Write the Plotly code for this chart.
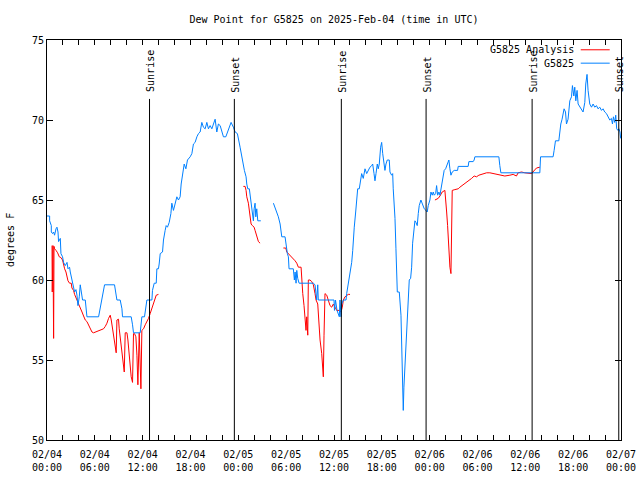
import pandas as pd
import plotly.graph_objects as go

# ---------------- data ----------------
# hours after 2025-02-04 00:00 UTC ; None marks a gap
obs_hours = [0.0, 0.33, 0.33, 0.54, 0.54, 0.70, 0.83, 0.95, 1.13, 1.25, 1.38, 1.45, 1.67, 1.75, 1.95,
             2.08, 2.29, 2.51, 2.63, 2.83, 2.92, 3.13, 3.33, 3.46, 3.63, 3.76, 3.88, 4.05, 4.17, 4.30,
             4.46, 4.80, 4.92, 5.01, 6.47, 6.68, 6.89, 7.09, 7.22, 8.47, 8.65, 8.77, 9.18, 9.40, 9.47,
             10.56, 10.73, 10.85, 11.69, 11.82, 11.90, 12.23, 12.41, 12.53, 13.16, 13.23, 13.45, 13.70,
             13.78, 13.98, 14.07, 14.20, 14.49, 14.61, 14.82, 14.95, 15.11, 15.33, 15.54, 15.66, 15.86,
             16.08, 16.29, 16.49, 16.70, 16.83, 16.99, 17.21, 17.42, 17.62, 17.96, 18.17, 18.37, 18.58,
             18.80, 19.00, 19.21, 19.42, 19.62, 19.84, 20.05, 20.25, 20.46, 20.68, 20.88, 21.09, 21.30,
             21.50, 21.72, 21.93, 22.13, 22.43, 22.63, 22.84, 23.09, 23.38, 23.60, 23.88, 24.13, 24.22,
             24.76, 24.97, 25.06, 25.18, 25.38, 25.47, 25.60, 25.69, 25.89, 25.98, 26.10, 26.19, 26.31,
             26.44, 26.82, None,
             28.40, 28.61, 28.82, 29.02, 29.24, 29.36, 29.45, 29.86, 29.99, 30.15, 30.28, 30.36, 30.90,
             31.03, 31.12, 31.24, 31.33, 31.45, 31.62, 33.41, 33.62, 33.71, 33.83, 33.96, 34.03, 36.00,
             36.06, 36.19, 36.38, 36.67, 36.75, 36.88, 36.97, 37.17, 37.51, 37.59, 37.79, 37.92, 38.09,
             38.22, 38.35, 38.42, 38.54, 38.72, 38.84, 38.97, 39.17, 39.35, 39.47, 39.67, 39.89, 40.10,
             40.30, 40.51, 40.73, 40.85, 41.02, 41.14, 41.27, 41.43, 41.55, 41.68, 41.85, 41.98, 42.11,
             42.27, 42.39, 42.52, 42.68, 42.93, 43.02, 43.23, 43.36, 43.43, 43.65, 43.77, 43.94, 44.19,
             44.27, 44.40, 44.49, 44.56, 44.69, 44.77, 44.90, 45.03, 45.19, 45.31, 45.44, 45.61, 45.74,
             45.86, 46.03, 46.15, 46.28, 46.44, 46.57, 46.69, 46.90, 47.12, 47.32, 47.53, 47.69, 47.82,
             48.03, 48.16, 48.32, 48.45, 48.57, 48.75, 48.87, 49.00, 49.16, 49.29, 49.41, 49.57, 49.70,
             49.82, 50.00, 50.13, 50.33, 50.41, 50.54, 50.67, 50.83, 51.08, 51.50, 51.58, 52.83, 52.92,
             53.46, 53.58, 53.67, 56.68, 56.80, 56.93, 59.94, 61.82, 61.91, 63.48, 63.61, 63.78, 64.20,
             64.32, 64.45, 64.61, 64.86, 65.04, 65.16, 65.36, 65.58, 65.79, 65.91, 66.08, 66.20, 66.33,
             66.49, 66.62, 66.83, 67.04, 67.24, 67.46, 67.58, 67.74, 67.87, 68.08, 68.30, 68.50, 68.71,
             68.92, 69.12, 69.34, 69.55, 69.75, 69.96, 70.18, 70.38, 70.59, 70.80, 70.93, 71.05, 71.21,
             71.34, 71.46, 71.62, 71.74, 71.87, 71.96]
obs_dewpt = [64.0, 64.0, 63.7, 63.4, 63.0, 62.9, 63.0, 62.8, 63.2, 63.3, 63.0, 62.4, 62.6, 61.65, 61.45,
             61.1, 60.9, 61.1, 60.7, 60.8, 60.5, 60.0, 59.7, 59.25, 59.4, 59.05, 58.4, 58.95, 59.7, 59.25,
             58.75, 58.75, 58.2, 57.7, 57.7, 58.2, 58.75, 59.25, 59.7, 59.7, 59.25, 58.75, 58.75, 58.2, 57.7,
             57.7, 57.2, 56.7, 56.7, 57.2, 57.7, 57.7, 58.2, 58.75, 58.75, 59.35, 59.8, 59.8,
             60.7, 60.7, 61.0, 61.65, 61.75, 62.5, 63.1, 63.4, 63.3, 63.6, 64.15, 64.8, 64.35,
             64.8, 65.2, 65.0, 65.2, 66.0, 66.55, 67.25, 66.95, 67.5, 67.7, 67.9, 68.5, 68.6,
             68.95, 69.15, 69.25, 69.85, 69.55, 69.45, 69.85, 69.45, 69.65, 69.45, 69.75, 70.05, 69.25,
             69.75, 69.65, 69.35, 68.95, 68.95, 69.25, 69.55, 69.85, 69.55, 69.25, 69.15, 68.6, 68.3,
             66.85, 66.45, 66.0, 65.7, 65.7, 65.3, 64.9, 64.45, 63.7, 64.45, 64.8, 63.95, 64.45,
             63.7, 63.7, None,
             64.8, 64.55, 64.25, 63.95, 63.5, 63.0, 62.7, 62.7, 62.05, 61.65, 61.45, 60.7, 60.7,
             60.0, 60.5, 59.8, 60.6, 60.1, 59.8, 59.8, 59.7, 59.15, 58.75, 59.7, 58.75, 58.75,
             58.1, 58.75, 58.1, 57.7, 58.75, 57.7, 58.5, 58.75, 58.75, 59.15, 59.8, 60.0, 60.5,
             61.1, 61.85, 62.6, 63.3, 64.25, 65.2, 65.7, 65.7, 66.45, 66.65, 66.35, 66.95, 66.65,
             66.85, 67.05, 67.15, 67.25, 66.65, 66.2, 66.65, 67.25, 66.95, 67.25, 68.3, 68.6, 67.9,
             67.25, 66.85, 67.25, 67.5, 67.5, 66.75, 66.55, 66.65, 65.7, 63.85, 61.95, 59.25, 59.25,
             58.75, 57.8, 56.0, 53.3, 51.85, 53.3, 54.6, 56.25, 57.6, 58.75, 60.0, 60.1, 60.8,
             62.3, 63.2, 63.7, 63.6, 63.4, 64.15, 64.65, 65.0, 64.65, 64.45, 64.35, 64.25, 64.65,
             65.0, 65.5, 65.3, 65.5, 65.3, 65.4, 65.9, 65.3, 65.5, 65.3, 65.6, 66.0, 66.55,
             66.85, 66.95, 67.15, 67.4, 67.5, 66.95, 66.55, 66.75, 66.85, 66.85, 67.1, 67.1, 67.4,
             67.4, 67.5, 67.7, 67.7, 67.15, 66.7, 66.7, 66.7, 67.7, 67.7, 68.1, 68.7, 68.7,
             69.35, 69.75, 70.05, 70.7, 70.5, 69.75, 70.05, 71.2, 71.45, 72.15, 71.5, 72.05, 71.2,
             71.85, 71.0, 70.8, 70.6, 70.5, 71.1, 72.25, 72.85, 71.85, 71.0, 70.8, 71.0, 70.8,
             70.9, 70.7, 70.8, 70.6, 70.7, 70.5, 70.4, 70.2, 70.0, 70.1, 69.75, 70.2, 69.85,
             70.3, 69.45, 69.35, 69.45, 69.25, 68.85]

ana_hours = [0.63, 0.66, 0.75, 0.83, 0.88, 0.95, 1.13, 1.33, 1.54, 1.75, 1.95, 2.08, 2.21, 2.38, 2.51,
             2.63, 2.83, 3.04, 3.13, 3.33, 3.46, 3.63, 3.76, 3.96, 4.17, 4.39, 4.59, 4.80, 5.01, 5.21,
             5.43, 5.64, 5.84, 6.05, 6.27, 6.47, 6.68, 6.89, 7.09, 7.31, 7.52, 7.72, 7.93, 8.06, 8.22,
             8.35, 8.47, 8.56, 8.68, 8.77, 8.97, 9.06, 9.18, 9.31, 9.47, 9.69, 9.81, 10.03, 10.15,
             10.31, 10.44, 10.56, 10.73, 10.85, 10.98, 11.15, 11.28, 11.40, 11.57, 11.69, 11.78, 11.90,
             12.11, 12.32, 12.53, 12.73, 12.94, 13.16, 13.36, 13.57, 13.70, 13.98, None,
             24.63, 24.85, 24.97, 25.06, 25.26, 25.35, 25.47, 25.60, 25.76, 25.98, 26.10, 26.23, 26.39,
             26.52, 26.73, None,
             29.65, 29.95, 30.08, 30.28, 30.49, 30.70, 30.90, 31.12, 31.33, 31.53, 31.87, 31.95, 32.08,
             32.24, 32.37, 32.49, 32.58, 32.71, 32.78, 32.99, 33.21, 33.41, 33.62, 33.75, 33.96, 34.12,
             34.25, 34.46, 34.59, 34.66, 34.75, 34.87, 35.09, 35.29, 35.50, 35.71, 35.92, 36.13, 36.34,
             36.63, 36.88, 37.04, 37.17, 37.38, 37.59, 37.79, 38.01, None,
             48.66, 49.07, 49.29, 49.57, 49.91, 50.00, 50.13, 50.25, 50.33, 50.45, 50.54, 50.67, 50.75,
             50.83, 51.16, 51.38, 51.58, 51.79, 52.08, 52.33, 52.63, 52.92, 53.26, 53.58, 53.88, 54.17,
             54.51, 54.84, 55.14, 55.55, 55.97, 56.39, 56.80, 57.43, 58.06, 58.47, 58.89, 59.09, 59.52,
             59.94, 60.77, 61.10, 61.40, 61.82]
ana_dewpt = [62.15, 59.25, 62.15, 56.35, 62.1, 61.95, 61.85, 61.7, 61.45, 61.4, 61.25, 60.9, 60.7, 60.5, 60.25,
             59.95, 59.8, 59.8, 59.5, 59.35, 59.1, 58.95, 58.75, 58.5, 58.3, 58.0, 57.75, 57.5, 57.4, 57.2,
             56.95, 56.75, 56.7, 56.75, 56.8, 56.85, 56.9, 56.9, 56.95, 57.1, 57.3, 57.6, 57.8, 57.5, 56.95,
             56.45, 56.25, 55.7, 55.45, 57.5, 57.55, 56.95, 56.45, 55.8, 55.1, 54.25, 56.7, 56.7, 56.25,
             55.5, 54.8, 53.95, 53.6, 56.65, 56.65, 56.45, 55.3, 53.45, 56.7, 55.2, 53.2, 56.85,
             56.95, 57.2, 57.4, 57.6, 57.9, 58.2, 58.5, 58.85, 59.05, 59.1, None,
             65.85, 65.85, 65.6, 65.2, 64.8, 64.35, 64.05, 63.5, 63.4, 63.3, 63.1, 62.85, 62.6,
             62.4, 62.3, None,
             62.0, 62.0, 61.75, 61.65, 61.5, 61.45, 61.35, 61.2, 61.05, 60.8, 60.8, 60.0, 59.15,
             58.4, 57.7, 56.85, 57.7, 56.55, 60.0, 60.0, 59.9, 59.7, 59.15, 58.75, 58.5, 57.3,
             56.25, 55.4, 54.6, 53.95, 56.55, 59.15, 59.05, 58.75, 58.4, 58.3, 58.5, 58.3, 58.1,
             58.1, 58.0, 58.3, 58.75, 58.95, 59.05, 59.1, 59.1, None,
             65.0, 65.1, 65.25, 65.5, 65.6, 65.2, 64.25, 63.4, 62.6, 61.65, 60.8, 60.4, 63.0,
             65.6, 65.65, 65.7, 65.7, 65.8, 65.9, 66.0, 66.1, 66.2, 66.35, 66.5, 66.45, 66.55,
             66.6, 66.65, 66.7, 66.7, 66.65, 66.6, 66.55, 66.5, 66.55, 66.6, 66.5, 66.7, 66.75,
             66.7, 66.65, 66.85, 67.0, 67.05]

sun_hours = [12.86, 23.50, 36.92, 47.55, 60.85, 71.72]
sun_labels = ["Sunrise", "Sunset", "Sunrise", "Sunset", "Sunrise", "Sunset"]

tick_hours = list(range(0, 73, 6))
tick_labels = ["02/04<br>00:00", "02/04<br>06:00", "02/04<br>12:00", "02/04<br>18:00",
               "02/05<br>00:00", "02/05<br>06:00", "02/05<br>12:00", "02/05<br>18:00",
               "02/06<br>00:00", "02/06<br>06:00", "02/06<br>12:00", "02/06<br>18:00",
               "02/07<br>00:00"]

series_names = ["G5825 Analysis", "G5825"]
series_colors = ["#ff0000", "#0080ff"]

# ---------------- build ----------------
BASE = pd.Timestamp("2025-02-04 00:00")


def to_time(hours):
    return [None if h is None else BASE + pd.Timedelta(hours=h) for h in hours]


FONT = "DejaVu Sans Mono"
fig = go.Figure()
fig.add_trace(go.Scatter(x=to_time(ana_hours), y=ana_dewpt, mode="lines", name=series_names[0],
                         line=dict(color=series_colors[0], width=1), showlegend=False))
fig.add_trace(go.Scatter(x=to_time(obs_hours), y=obs_dewpt, mode="lines", name=series_names[1],
                         line=dict(color=series_colors[1], width=1), showlegend=False))

top_of_sunline = (440 - 98.5) / 400.5
for h, lab in zip(sun_hours, sun_labels):
    t = BASE + pd.Timedelta(hours=h)
    fig.add_shape(type="line", x0=t, x1=t, xref="x", yref="paper", y0=0, y1=top_of_sunline,
                  line=dict(color="black", width=1))
    fig.add_annotation(x=t, xref="x", y=(440 - 93) / 400.5, yref="paper", text=lab,
                       textangle=-90, showarrow=False, xanchor="center", yanchor="bottom",
                       font=dict(family=FONT, size=10, color="black"), borderpad=0, xshift=1)

# legend (text at left, sample line at right, like the original)
leg_rows = [(440 - 49.3) / 400.5, (440 - 62.7) / 400.5]
for name, col, yy in zip(series_names, series_colors, leg_rows):
    fig.add_annotation(x=(575 - 46.7) / 574.6, xref="paper", y=yy, yref="paper", text=name,
                       showarrow=False, xanchor="right", yanchor="middle",
                       font=dict(family=FONT, size=10, color="black"), borderpad=0)
    fig.add_shape(type="line", xref="paper", yref="paper",
                  x0=(581 - 46.7) / 574.6, x1=(610 - 46.7) / 574.6, y0=yy, y1=yy,
                  line=dict(color=col, width=1))

fig.add_annotation(x=0, xref="paper", y=0.5, yref="paper", text="degrees F", textangle=-90,
                   showarrow=False, xshift=-37, xanchor="center", yanchor="middle",
                   font=dict(family=FONT, size=10, color="black"))

fig.update_layout(
    width=640, height=480,
    margin=dict(l=47, r=19, t=40, b=40, autoexpand=False),
    paper_bgcolor="white", plot_bgcolor="white",
    font=dict(family=FONT, size=10, color="black"),
    title=dict(text="Dew Point for G5825 on 2025-Feb-04 (time in UTC)", x=0.5, xref="paper",
               y=1 - 19 / 480, yanchor="middle", xanchor="center",
               font=dict(family=FONT, size=10, color="black")),
    showlegend=False,
)
fig.update_xaxes(
    range=[BASE, BASE + pd.Timedelta(hours=72)],
    tickmode="array", tickvals=to_time(tick_hours), ticktext=tick_labels,
    ticks="inside", ticklen=5, tickcolor="black", showline=True, linecolor="black", linewidth=1,
    mirror="allticks", showgrid=False, zeroline=False, ticklabelstandoff=5, automargin=False,
    minor=dict(dtick=2 * 3600 * 1000, tick0=BASE, ticks="inside", ticklen=5, tickcolor="black",
               showgrid=False),
    tickfont=dict(family=FONT, size=10, color="black"),
)
fig.update_yaxes(
    range=[50, 75], tickmode="linear", tick0=50, dtick=5,
    ticks="inside", ticklen=6, tickcolor="black", showline=True, linecolor="black", linewidth=1,
    mirror="allticks", showgrid=False, zeroline=False, automargin=False,
    tickfont=dict(family=FONT, size=10, color="black"),
)

fig.write_html("out.html", config={"displayModeBar": False},
               post_script="document.body.style.margin='0';")
